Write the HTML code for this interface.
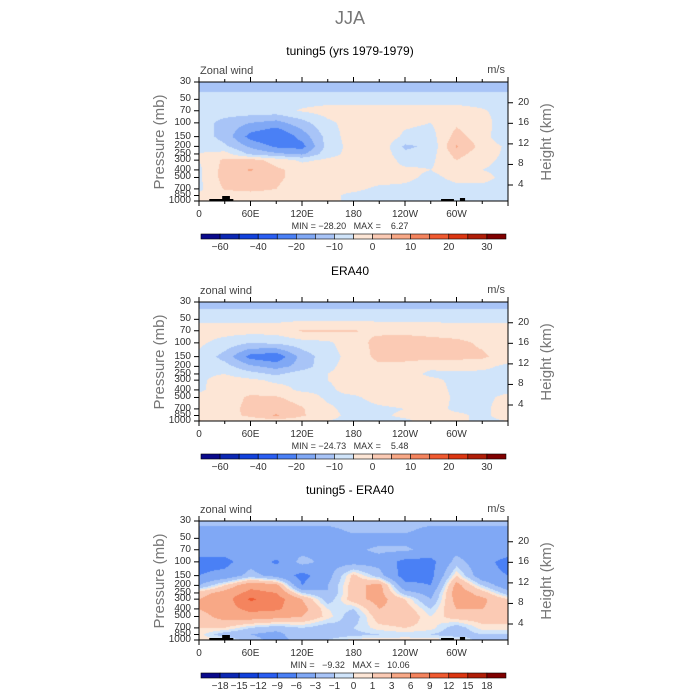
<!DOCTYPE html>
<html><head><meta charset="utf-8">
<style>
body{margin:0;background:#fff;width:700px;height:700px;position:relative;overflow:hidden;font-family:"Liberation Sans",sans-serif;}
.t{position:absolute;white-space:nowrap;}
canvas{position:absolute;}
svg{position:absolute;left:0;top:0;}
</style></head>
<body>
<div class="t" style="left:0;width:700px;text-align:center;top:8px;font-size:18px;color:#777;">JJA</div>
<div id="root"></div>
<svg id="svg" width="700" height="700"></svg>
<script>
// ---- data ----
const lons = [0,30,60,90,120,150,180,210,240,270,300,330,360];
const levels = [30,40,50,70,100,150,200,250,300,400,500,700,850,1000];
const xTickLabels = ["0","60E","120E","180","120W","60W"];
const pTickLabels = [30,50,70,100,150,200,250,300,400,500,700,850,1000];
const hTickLabels = [4,8,12,16,20];
const thresholdsAbs = [-60,-50,-40,-30,-20,-15,-10,-5,0,5,10,15,20,25,30];
const thresholdsDiff = [-18,-15,-12,-9,-6,-3,-1,0,1,3,6,9,12,15,18];
const labelsAbs = ["","-60","","-40","","-20","","-10","","0","","10","","20","","30",""];
const labelsDiff = ["","-18","-15","-12","-9","-6","-3","-1","0","1","3","6","9","12","15","18",""];
const palette = ["#0a0a8c","#0c28b4","#1242dc","#2a5ef2","#4a80f5","#80a8f5","#a8c4f7","#d0e4fa","#fde6d6","#fbcab4","#f8a886","#f4845e","#f05a30","#dc3612","#b01e08","#800000"];
const uModel = [
[-12,-12,-12,-12,-12,-12,-12,-12,-12,-12,-12,-12,-12],
[-10,-10,-10,-10,-10,-10,-10,-10,-10,-10,-10,-10,-10],
[-7,-7,-7,-7,-7,-7,-7,-7,-7,-7,-7,-7,-7],
[-7,-7,-7,-7,-4.5,-3,-3,-3,-3,-3,-3,-4.5,-7],
[-7,-12,-15,-17,-12,-6,-3,-2,-4,-5,-1,-3,-8],
[-7,-12,-22,-26,-18,-8,-2,-1,-6,-7,2,-3,-9],
[-6,-9,-16,-21,-22,-8,-3,-1,-11,-9,5.6,-2,-6],
[-5,-3,-11,-14,-16,-7,-3,-1,-9,-7,2,-3,-6],
[-5,1,2,-2,-6,-4,-3,-1,-7,-6,0,-4,-6],
[-6,2,5.5,1,-2,-3,-3,-3,-4,-5,-3,-5,-6],
[-6,2,3,1,-2,-3,-2,-3,-4,-6,-4,-4,-6],
[-6,0.5,2,0,-3,-4,-4,-6,-6,-7,-6,-6,-6],
[-4,-3,-3,-3,-3,-4,-6,-7,-7,-6,-6,-6,-6],
[-3,-3,-3,-3,-3,-4,-6,-7,-7,-6,-6,-6,-6]];
const uEra = [
[-12,-12,-12,-12,-12,-12,-12,-12,-12,-12,-12,-12,-12],
[-9,-9,-9,-9,-9,-9,-9,-9,-9,-9,-9,-9,-9],
[-6,-6,-6,-6,-6,-6,-6,-6,-6,-6,-6,-6,-6],
[-3,-3,-3,-3,0.5,0.5,0.3,-1,-1,-2,-3,-3,-3],
[-4,-7,-10,-9,-7,-6,-2,1.5,2,2,1.5,-1,-4],
[-6,-12,-22,-24,-13,-7,-3,1.5,2,2,1.5,1,-3],
[-6,-8,-14,-17,-13,-6,-3,-1,-2,-4,-3,-4,-6],
[-6,-5,-8,-11,-7,-5,-3,-2,-3,-6,-6,-6,-6],
[-6,-3,-4,-6,-6,-5,-3,-2,-3,-4,-6,-6,-6],
[-6,-2,-2,-3,-6,-6,-3,-2,-2,-3,-6,-6,-6],
[-3,-3,1,0.5,-2,-6,-6,-3,-2,-2,-6,-6,-4],
[-3,-2,1.5,3,0.5,-4,-7,-6,-5,-3,-6,-6,-3],
[-3,-2,1,5.6,0.5,-3,-7,-6,-4,-3,-4,-6,-3],
[0.5,-3,-3,-3,-3,-5,-7,-6,-6,-3,-4,-6,-5]];
const uDiff = [
[-2,-2,-2,-2,-2,-2,-1.5,-1.5,-2,-2,-2,-2,-2],
[-4,-4,-4,-4,-4,-4,-2.5,-2.5,-2.5,-4,-4,-4,-4],
[-4.5,-4.5,-4.5,-4.5,-4.5,-4.5,-4,-4,-4,-4.5,-4.5,-4.5,-4.5],
[-4.5,-4.5,-4,-4,-4,-4,-3.5,-2.5,-2.5,-4,-4,-4.5,-4.5],
[-7,-7,-4,-6.5,-2,-4,-4,-4,-7,-7,-2,-5,-7],
[-6,-5,-2,-4,-7,-4,1.5,-2,-7.5,-7,1,-5,-6],
[-3,1,5,4,-6,-3,2,4,-5,-6,4,-1,-5],
[2,4,7,6,-1,-3,2,4,-2,-4,4.5,2,-2],
[3,4.5,9.5,7.5,3,-2,2,4,1,-3,4,3.5,1],
[3,4.5,7,6.5,4,0,-1,3,2,-1,3,3,2],
[2,4,4.5,4,3,0.5,-2,2,2.5,0,2,2,2],
[1,1,-1,-2,-1,-2,-1,0.5,1,0.5,-2,0.5,0.5],
[0.5,-2,-3,-4,-1,-2,-1.5,-1,-0.5,-1,-2,-1,-1],
[0.5,0.5,-2,-4,-2,-1,0.5,0.5,0.5,0.5,0.5,-2,-3]];

// ---- layout ----
const X0=199, X1=508, PH=119;
const panels=[
 {top:82, title:"tuning5 (yrs 1979-1979)", wind:"Zonal wind", grid:uModel, thr:thresholdsAbs, labs:labelsAbs, mm:"MIN = \u221228.20   MAX =    6.27", topo:true},
 {top:302, title:"ERA40", wind:"zonal wind", grid:uEra, thr:thresholdsAbs, labs:labelsAbs, mm:"MIN = \u221224.73   MAX =    5.48", topo:false},
 {top:521, title:"tuning5 - ERA40", wind:"zonal wind", grid:uDiff, thr:thresholdsDiff, labs:labelsDiff, mm:"MIN =   \u22129.32   MAX =   10.06", topo:true}];
const xs = lon => X0 + lon/360*(X1-X0);
const ys = (p,top) => top + Math.log(p/30)/Math.log(1000/30)*PH;
const root=document.getElementById('root');
const svg=document.getElementById('svg');
const NS="http://www.w3.org/2000/svg";
function addText(x,y,txt,size,color,anchor,name,extra){
  const d=document.createElement('div');
  d.className='t';
  
  
  d.textContent=txt;
  let s=`top:${y}px;font-size:${size}px;color:${color};`;
  if(anchor==='c') s+=`left:${x-200}px;width:400px;text-align:center;`;
  else if(anchor==='r') s+=`left:${x-200}px;width:200px;text-align:right;`;
  else s+=`left:${x}px;`;
  d.style.cssText=s+(extra||'');
  root.appendChild(d);return d;
}
function line(x1,y1,x2,y2,name,w){
  const l=document.createElementNS(NS,'line');
  
  
  l.setAttribute('x1',x1);l.setAttribute('y1',y1);l.setAttribute('x2',x2);l.setAttribute('y2',y2);
  l.setAttribute('stroke','#000');l.setAttribute('stroke-width',w||1);
  svg.appendChild(l);
}
function rect(x,y,w,h,fill,name){
  const r=document.createElementNS(NS,'rect');
  
  
  r.setAttribute('x',x);r.setAttribute('y',y);r.setAttribute('width',w);r.setAttribute('height',h);
  r.setAttribute('fill',fill);
  svg.appendChild(r);return r;
}
function colorFor(v,thr){let i=0;while(i<thr.length&&v>=thr[i])i++;return palette[i];}

panels.forEach((P,pi)=>{
  const top=P.top, bot=top+PH;
  // contour field
  const cv=document.createElement('canvas');
  
  
  cv.width=X1-X0;cv.height=PH;cv.style.left=X0+'px';cv.style.top=top+'px';
  root.appendChild(cv);
  const ctx=cv.getContext('2d');
  const rowY=levels.map(p=>ys(p,top)-top);
  for(let py=0;py<PH;py++){
    const yy=py+0.5;
    let r=0;while(r<levels.length-2&&yy>rowY[r+1])r++;
    let ty=(yy-rowY[r])/(rowY[r+1]-rowY[r]);ty=Math.max(0,Math.min(1,ty));
    for(let px=0;px<X1-X0;px++){
      const lon=(px+0.5)/(X1-X0)*360;
      let c=Math.min(lons.length-2,Math.floor(lon/30));
      const tx=(lon-lons[c])/30;
      const g=P.grid;
      const v=(g[r][c]*(1-tx)+g[r][c+1]*tx)*(1-ty)+(g[r+1][c]*(1-tx)+g[r+1][c+1]*tx)*ty;
      ctx.fillStyle=colorFor(v,P.thr);ctx.fillRect(px,py,1,1);
    }
  }
  if(P.topo){
    rect(xs(12),bot-2,xs(40)-xs(12),2,'#000','topography');
    rect(xs(27),bot-5,xs(36)-xs(27),5,'#000','topography');
    rect(xs(282),bot-2,xs(297)-xs(282),2,'#000','topography');
    rect(xs(304),bot-3,xs(310)-xs(304),3,'#000','topography');
  }
  // frame
  const fr=rect(X0,top,X1-X0,PH,'none','plot-frame');fr.setAttribute('stroke','#000');
  // x ticks
  for(let lon=0;lon<=360;lon+=30){
    const x=xs(lon);const major=lon%60===0;
    line(x,bot,x,bot+(major?5:3),'x-tick');
    line(x,top,x,top-(major?5:3),'x-tick-top');
  }
  xTickLabels.forEach((t,i)=>addText(xs(i*60),bot+8,t,10,'#333','c','x-tick-label'));
  pTickLabels.forEach(p=>{const y=ys(p,top);line(X0-5,y,X0,y,'p-tick');addText(X0-8,y-6,String(p),10,'#333','r','p-tick-label','line-height:12px;');});
  hTickLabels.forEach(h=>{const y=bot-16-(h-4)*5.14;line(X1,y,X1+5,y,'h-tick');addText(X1+10,y-6,String(h),10,'#333','l','h-tick-label','line-height:12px;');});
  addText(350,top-38,P.title,12,'#000','c','panel-title');
  addText(X0+1,top-17,P.wind,11,'#444','l','variable-label');
  addText(X1-3,top-18,'m/s',11,'#444','r','units-label');
  addText(160,top+60,'Pressure (mb)',15,'#777','l','y-axis-title','transform:translate(-50%,-50%) rotate(-90deg);line-height:16px;');
  addText(547,top+60,'Height (km)',15,'#777','l','y2-axis-title','transform:translate(-50%,-50%) rotate(-90deg);line-height:16px;');
  addText(350,bot+20,P.mm.replace(/ /g,'\u00a0'),9,'#333','c','min-max-label','line-height:10px;');
  // colorbar
  const cb0=201, cbw=19.06, cby=bot+33;
  palette.forEach((c,i)=>{const r=rect(cb0+i*cbw,cby,cbw,5,c,'colorbar-box');r.setAttribute('stroke','#000');r.setAttribute('stroke-width','0.6');});
  P.labs.forEach((t,i)=>{if(t)addText(cb0+i*cbw,cby+8,t.replace('-','\u2212'),10,'#333','c','colorbar-label','line-height:11px;');});
});
</script>
</body></html>
